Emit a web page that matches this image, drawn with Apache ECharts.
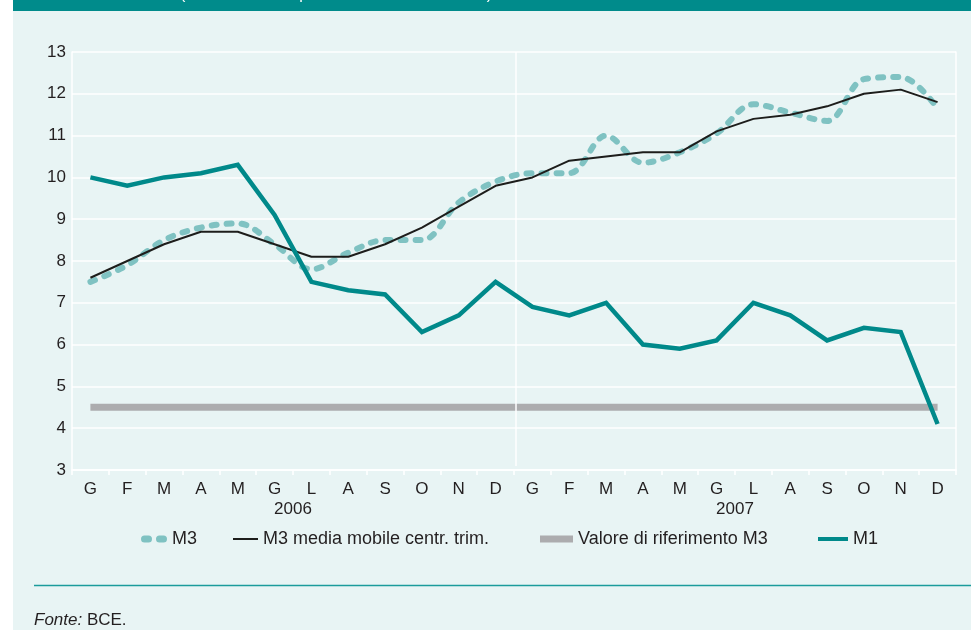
<!DOCTYPE html>
<html>
<head>
<meta charset="utf-8">
<script src="https://cdn.jsdelivr.net/npm/echarts@6/dist/echarts.min.js"></script>
<style>
html,body{margin:0;padding:0;background:#fff;}
#c{width:971px;height:630px;background:linear-gradient(to right,#ffffff 0,#ffffff 13px,#e8f4f4 13px,#e8f4f4 100%);}
</style>
</head>
<body>
<div id="c"></div>
<script>
const months = ['G','F','M','A','M','G','L','A','S','O','N','D','G','F','M','A','M','G','L','A','S','O','N','D'];
const years = ['2006','2007'];
const yTicks = {min: 3, max: 13, step: 1};
const m3 = [7.5,7.9,8.5,8.8,8.9,8.4,7.8,8.2,8.5,8.5,9.4,9.9,10.1,10.1,11.0,10.35,10.6,11.05,11.75,11.55,11.35,12.35,12.4,11.65];
const m3avg = [7.6,8.0,8.4,8.7,8.7,8.4,8.1,8.1,8.4,8.8,9.3,9.8,10.0,10.4,10.5,10.6,10.6,11.1,11.4,11.5,11.7,12.0,12.1,11.8];
const refM3 = [4.5,4.5,4.5,4.5,4.5,4.5,4.5,4.5,4.5,4.5,4.5,4.5,4.5,4.5,4.5,4.5,4.5,4.5,4.5,4.5,4.5,4.5,4.5,4.5];
const m1 = [10.0,9.8,10.0,10.1,10.3,9.1,7.5,7.3,7.2,6.3,6.7,7.5,6.9,6.7,7.0,6.0,5.9,6.1,7.0,6.7,6.1,6.4,6.3,4.1];
const names = ['M3','M3 media mobile centr. trim.','Valore di riferimento M3','M1'];

const FONT = 'Liberation Sans, Arial, Helvetica, sans-serif';
const TXT = '#231f20';
const txtStyle = {color: TXT, fontSize: 17, fontFamily: FONT};
const legStyle = {color: TXT, fontSize: 18, fontFamily: FONT};
const pills = 'path://M3.5,0h4a3.5,3.5 0 0 1 0,7h-4a3.5,3.5 0 0 1 0,-7zM18.5,0h4a3.5,3.5 0 0 1 0,7h-4a3.5,3.5 0 0 1 0,-7z';

const chart = echarts.init(document.getElementById('c'), null, {renderer: 'canvas'});
const option = {
  backgroundColor: 'transparent',
  animation: false,
  textStyle: {fontFamily: FONT},
  grid: {left: 72, right: 15, top: 52, bottom: 160, containLabel: false},
  xAxis: [{
    type: 'category', data: months, boundaryGap: true, position: 'bottom',
    axisLine: {show: true, lineStyle: {color: '#ffffff', width: 1.5}},
    axisTick: {show: true, length: 5, lineStyle: {color: '#ffffff', width: 1.5}},
    axisLabel: Object.assign({margin: 11, interval: 0}, txtStyle),
    splitLine: {show: false}
  }, {
    type: 'category', data: years, boundaryGap: true, position: 'bottom', offset: 0,
    axisLine: {show: false}, axisTick: {show: false},
    axisLabel: Object.assign({margin: 31, interval: 0}, txtStyle),
    splitLine: {show: false}
  }],
  yAxis: [{
    type: 'value', min: yTicks.min, max: yTicks.max, interval: yTicks.step,
    axisLine: {show: true, lineStyle: {color: '#ffffff', width: 1.5}},
    axisTick: {show: false},
    axisLabel: Object.assign({margin: 6}, txtStyle),
    splitLine: {show: true, lineStyle: {color: '#ffffff', width: 1.5}}
  }, {
    type: 'value', min: yTicks.min, max: yTicks.max, interval: yTicks.step, position: 'right',
    axisLine: {show: true, lineStyle: {color: '#ffffff', width: 1.5}},
    axisTick: {show: false}, axisLabel: {show: false}, splitLine: {show: false}
  }],
  legend: [
    {left: 141, top: 530, padding: 0, selectedMode: false, itemWidth: 26, itemHeight: 7,
     itemStyle: {borderWidth: 0}, textStyle: legStyle, data: [{name: names[0], icon: pills}]},
    {left: 233, top: 530, padding: 0, selectedMode: false, itemWidth: 25, itemHeight: 2,
     itemStyle: {borderWidth: 0}, textStyle: legStyle, data: [{name: names[1], icon: 'rect'}]},
    {left: 540, top: 530, padding: 0, selectedMode: false, itemWidth: 33, itemHeight: 7,
     itemStyle: {borderWidth: 0}, textStyle: legStyle, data: [{name: names[2], icon: 'rect'}]},
    {left: 818, top: 530, padding: 0, selectedMode: false, itemWidth: 30, itemHeight: 4,
     itemStyle: {borderWidth: 0}, textStyle: legStyle, data: [{name: names[3], icon: 'rect'}]}
  ],
  series: [
    {name: names[2], type: 'line', data: refM3, z: 1, color: '#acacae', showSymbol: false,
     lineStyle: {color: '#acacae', width: 7, cap: 'butt'}},
    {name: names[0], type: 'line', data: m3, z: 3, color: '#7fc2c2', showSymbol: false, smooth: 0.35,
     lineStyle: {color: '#7fc2c2', width: 6, type: [5, 10], cap: 'round'}},
    {name: names[1], type: 'line', data: m3avg, z: 4, color: '#1d1d1b', showSymbol: false,
     lineStyle: {color: '#1d1d1b', width: 2}},
    {name: names[3], type: 'line', data: m1, z: 5, color: '#00898a', showSymbol: false,
     lineStyle: {color: '#00898a', width: 4.5, join: 'miter'}}
  ]
};
chart.setOption(option);

const xa = chart.convertToPixel({xAxisIndex: 0}, 11);
const xb = chart.convertToPixel({xAxisIndex: 0}, 12);
const sepX = (xa + xb) / 2 + 2;
const yTop = chart.convertToPixel({yAxisIndex: 0}, yTicks.max);
const yBot = chart.convertToPixel({yAxisIndex: 0}, yTicks.min);

chart.setOption({
  graphic: [
    {type: 'rect', z: 10, shape: {x: 13, y: 0, width: 958, height: 11}, style: {fill: '#008b8b'}},
    {type: 'text', z: 11, x: 180, y: 3, style: {text: '(tassi di crescita percentuali sui dodici mesi)', fill: '#ffffff', font: '16px ' + FONT, verticalAlign: 'bottom'}},
    {type: 'line', z: 2, shape: {x1: sepX, y1: yTop, x2: sepX, y2: yBot - 4}, style: {stroke: '#ffffff', lineWidth: 1.5}},
    {type: 'line', z: 2, shape: {x1: 34, y1: 585.5, x2: 971, y2: 585.5}, style: {stroke: '#1b9b9b', lineWidth: 1.5}},
    {type: 'text', z: 2, x: 34, y: 620, style: {text: '{i|Fonte:} BCE.', fill: TXT, font: '17px ' + FONT, verticalAlign: 'middle',
      rich: {i: {fontStyle: 'italic', fontSize: 17, fontFamily: FONT, fill: TXT}}}}
  ]
});
</script>
</body>
</html>
